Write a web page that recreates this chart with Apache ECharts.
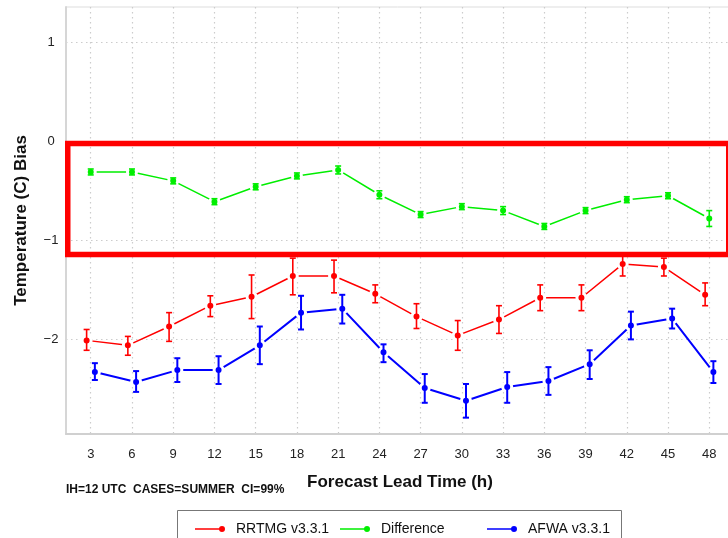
<!DOCTYPE html>
<html><head><meta charset="utf-8">
<script src="https://cdn.jsdelivr.net/npm/echarts@6/dist/echarts.min.js"></script>
<style>html,body{margin:0;padding:0;background:#fff}#c{width:728px;height:538px}</style>
</head><body><div id="c"></div>
<script>
// ---- data ----
const leadTimes = [3, 6, 9, 12, 15, 18, 21, 24, 27, 30, 33, 36, 39, 42, 45, 48];
const yTicks = [-2, -1, 0, 1];

const rrtmgMean = [-2.01, -2.06, -1.87, -1.66, -1.57, -1.36, -1.36, -1.54, -1.77, -1.96, -1.80, -1.58, -1.58, -1.24, -1.27, -1.55];
const rrtmgLow  = [-2.11, -2.16, -2.02, -1.77, -1.79, -1.55, -1.53, -1.63, -1.89, -2.11, -1.94, -1.71, -1.71, -1.36, -1.36, -1.66];
const rrtmgHigh = [-1.90, -1.97, -1.73, -1.56, -1.35, -1.18, -1.20, -1.45, -1.64, -1.81, -1.66, -1.45, -1.45, -1.15, -1.18, -1.43];

const diffMean = [-0.31, -0.31, -0.40, -0.61, -0.46, -0.35, -0.29, -0.54, -0.74, -0.66, -0.70, -0.86, -0.70, -0.59, -0.55, -0.78];
const diffLow  = [-0.34, -0.34, -0.43, -0.64, -0.49, -0.38, -0.33, -0.58, -0.77, -0.69, -0.74, -0.89, -0.73, -0.62, -0.58, -0.86];
const diffHigh = [-0.28, -0.28, -0.37, -0.58, -0.43, -0.32, -0.25, -0.50, -0.71, -0.63, -0.66, -0.83, -0.67, -0.56, -0.52, -0.70];

const afwaMean = [-2.33, -2.43, -2.31, -2.31, -2.06, -1.73, -1.69, -2.13, -2.49, -2.62, -2.48, -2.42, -2.25, -1.86, -1.79, -2.33];
const afwaLow  = [-2.41, -2.53, -2.43, -2.45, -2.25, -1.90, -1.84, -2.23, -2.64, -2.79, -2.64, -2.56, -2.40, -2.00, -1.89, -2.44];
const afwaHigh = [-2.24, -2.32, -2.19, -2.17, -1.87, -1.56, -1.55, -2.05, -2.35, -2.45, -2.33, -2.28, -2.11, -1.72, -1.69, -2.22];

const names = ['RRTMG v3.3.1', 'Difference', 'AFWA v3.3.1'];
const colors = ['#ff0000', '#00ee00', '#0000ff'];
const shift = 0.3; // horizontal dodge of the two model series (hours)

// ---- build ----
function pts(mean, dx) { return leadTimes.map((t, i) => [t + dx, mean[i]]); }
function bars(lo, hi, dx) { return leadTimes.map((t, i) => [t + dx, lo[i], hi[i]]); }

function errRender(color, lw) {
  return function (params, api) {
    const x = api.value(0), lo = api.value(1), hi = api.value(2);
    const pLo = api.coord([x, lo]), pHi = api.coord([x, hi]);
    const c = 3;
    const st = { stroke: color, lineWidth: lw };
    return { type: 'group', children: [
      { type: 'line', shape: { x1: pLo[0], y1: pLo[1], x2: pHi[0], y2: pHi[1] }, style: st },
      { type: 'line', shape: { x1: pLo[0] - c, y1: pLo[1], x2: pLo[0] + c, y2: pLo[1] }, style: st },
      { type: 'line', shape: { x1: pHi[0] - c, y1: pHi[1], x2: pHi[0] + c, y2: pHi[1] }, style: st }
    ]};
  };
}

function lineSeries(name, data, color, lw) {
  return {
    name, type: 'line', data, z: 2,
    symbol: 'circle', symbolSize: 9,
    itemStyle: { color, borderColor: '#fff', borderWidth: 3 },
    lineStyle: { color, width: lw },
    emphasis: { disabled: true }, animation: false
  };
}
function errSeries(name, data, color, lw) {
  return { name, type: 'custom', data, z: 3, renderItem: errRender(color, lw),
    encode: { x: 0, y: [1, 2] }, animation: false, silent: true };
}

const iconPath = 'path://M0,3.2 L26,3.2 L26,4.8 L0,4.8 Z M30,4 A3,3 0 1 1 24,4 A3,3 0 1 1 30,4 Z';
function legendAt(name, left) {
  return {
    data: [name], left, top: 516, orient: 'horizontal',
    icon: iconPath, itemWidth: 30, itemHeight: 6, selectedMode: false,
    itemStyle: { borderWidth: 0 },
    textStyle: { fontFamily: 'Liberation Sans', fontSize: 14, color: '#111', padding: [0, 0, 0, 6], lineHeight: 16 }
  };
}

const gridLine = { show: true, lineStyle: { color: '#cccccc', type: [1.5, 3.5], width: 1.2 } };

const chart = echarts.init(document.getElementById('c'), null, { renderer: 'canvas' });
chart.setOption({
  animation: false,
  backgroundColor: '#fff',
  grid: { left: 66, right: -6, top: 7, bottom: 104, show: true, borderColor: '#dddddd', borderWidth: 1,
          outerBoundsMode: 'none', containLabel: false },
  xAxis: {
    type: 'value', min: 1.2, max: 49.8,
    name: 'Forecast Lead Time (h)', nameLocation: 'middle', nameGap: 40,
    nameTextStyle: { fontFamily: 'Liberation Sans', fontWeight: 'bold', fontSize: 17, color: '#111' },
    axisLine: { show: true, onZero: false, lineStyle: { color: '#d0d0d0', width: 2 } },
    axisTick: { show: false, customValues: leadTimes },
    axisLabel: { customValues: leadTimes, fontFamily: 'Liberation Sans', fontSize: 13, color: '#222', margin: 14 },
    splitLine: gridLine
  },
  yAxis: {
    type: 'value', min: -2.955, max: 1.355,
    name: 'Temperature (C) Bias', nameLocation: 'middle', nameGap: 36,
    nameTextStyle: { fontFamily: 'Liberation Sans', fontWeight: 'bold', fontSize: 17, color: '#111' },
    axisLine: { show: true, lineStyle: { color: '#d6d6d6', width: 2 } },
    axisTick: { show: false, customValues: yTicks },
    axisLabel: { customValues: yTicks, fontFamily: 'Liberation Sans', fontSize: 13, color: '#222', margin: 15, align: 'center',
      formatter: v => (v < 0 ? '\u2212' + Math.abs(v) : String(v)) },
    splitLine: gridLine
  },
  legend: [legendAt(names[0], 190), legendAt(names[1], 335), legendAt(names[2], 482)],
  series: [
    lineSeries(names[0], pts(rrtmgMean, -shift), colors[0], 1.5),
    errSeries('rrtmg-ci', bars(rrtmgLow, rrtmgHigh, -shift), colors[0], 1.6),
    lineSeries(names[1], pts(diffMean, 0), colors[1], 1.5),
    errSeries('diff-ci', bars(diffLow, diffHigh, 0), colors[1], 1.6),
    lineSeries(names[2], pts(afwaMean, shift), colors[2], 2),
    errSeries('afwa-ci', bars(afwaLow, afwaHigh, shift), colors[2], 2)
  ],
  graphic: [
    { type: 'rect', z: 100, shape: { x: 177.5, y: 510.5, width: 444, height: 40 },
      style: { fill: 'none', stroke: '#777', lineWidth: 1 } },
    { type: 'text', z: 100, left: 66, top: 484,
      style: { text: 'IH=12 UTC  CASES=SUMMER  CI=99%', font: 'bold 12px "Liberation Sans"', fill: '#111' } },
    { type: 'rect', z: 100, shape: { x: 67.75, y: 143.5, width: 661, height: 111 },
      style: { fill: 'none', stroke: '#ff0000', lineWidth: 5.5 } }
  ]
});
</script></body></html>
